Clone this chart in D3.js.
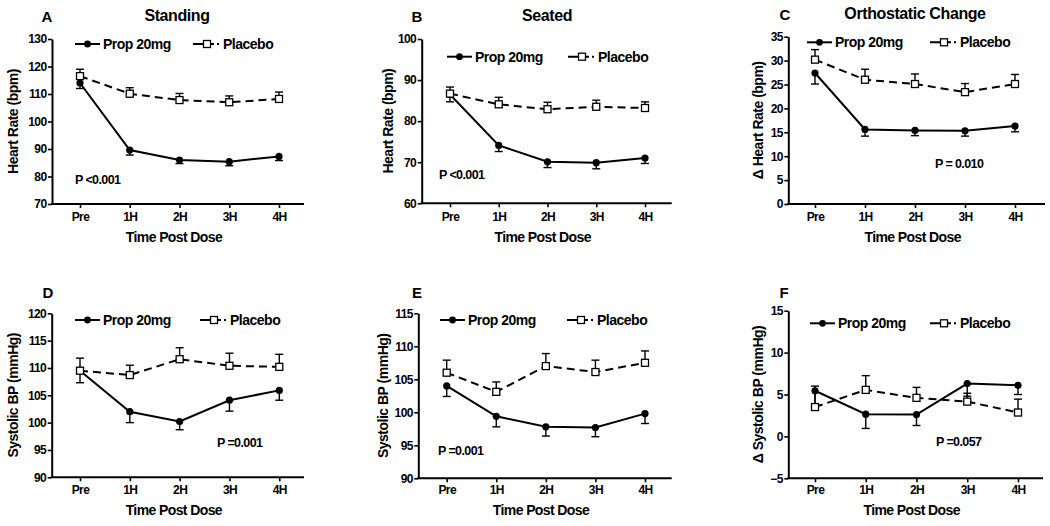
<!DOCTYPE html>
<html>
<head>
<meta charset="utf-8">
<script src="https://cdn.jsdelivr.net/npm/d3@7"></script>
<style>
  html, body { margin: 0; padding: 0; background: #fff; }
  svg { display: block; }
  text { font-family: "Liberation Sans", Arial, sans-serif; font-weight: bold; fill: #000; }
</style>
</head>
<body>
<svg id="chart" width="1050" height="526"></svg>
<script>
// ---------- data ----------
const categories = ["Pre", "1H", "2H", "3H", "4H"];
const seriesNames = ["Prop 20mg", "Placebo"];

// A: Standing heart rate
const standingHRProp = [114.0, 89.6, 86.0, 85.4, 87.3];
const standingHRPropErr = [2.0, 1.8, 1.3, 1.5, 1.5];
const standingHRPlacebo = [116.5, 110.1, 107.8, 107.0, 108.2];
const standingHRPlaceboErr = [2.5, 2.2, 2.4, 2.3, 2.5];
const ticksA = [70, 80, 90, 100, 110, 120, 130];

// B: Seated heart rate
const seatedHRProp = [86.5, 74.1, 70.1, 69.9, 71.0];
const seatedHRPropErr = [1.8, 1.5, 1.4, 1.5, 1.3];
const seatedHRPlacebo = [86.7, 84.1, 82.9, 83.5, 83.2];
const seatedHRPlaceboErr = [1.6, 1.7, 1.7, 1.6, 1.5];
const ticksB = [60, 70, 80, 90, 100];

// C: Orthostatic change heart rate
const orthoHRProp = [27.4, 15.6, 15.4, 15.3, 16.3];
const orthoHRPropErr = [2.3, 1.4, 1.1, 1.1, 1.2];
const orthoHRPlacebo = [30.2, 26.0, 25.1, 23.4, 25.1];
const orthoHRPlaceboErr = [2.1, 2.2, 2.1, 1.8, 2.0];
const ticksC = [0, 5, 10, 15, 20, 25, 30, 35];

// D: Standing systolic BP
const standingSBPProp = [109.5, 102.0, 100.2, 104.1, 105.9];
const standingSBPPropErr = [2.2, 2.0, 1.5, 2.0, 1.8];
const standingSBPPlacebo = [109.5, 108.7, 111.6, 110.4, 110.2];
const standingSBPPlaceboErr = [2.3, 1.8, 2.1, 2.3, 2.3];
const ticksD = [90, 95, 100, 105, 110, 115, 120];

// E: Seated systolic BP
const seatedSBPProp = [104.0, 99.4, 97.8, 97.7, 99.8];
const seatedSBPPropErr = [1.6, 1.6, 1.4, 1.4, 1.5];
const seatedSBPPlacebo = [106.0, 103.1, 107.0, 106.1, 107.5];
const seatedSBPPlaceboErr = [1.9, 1.5, 1.9, 1.8, 1.8];
const ticksE = [90, 95, 100, 105, 110, 115];

// F: Orthostatic change systolic BP
const orthoSBPProp = [5.45, 2.65, 2.6, 6.3, 6.1];
const orthoSBPPropErr = [1.9, 1.7, 1.3, 1.5, 1.1];
const orthoSBPPlacebo = [3.5, 5.55, 4.6, 4.15, 2.85];
const orthoSBPPlaceboErr = [2.5, 1.7, 1.25, 1.0, 1.6];
const ticksF = [-5, 0, 5, 10, 15];

const letters = ["A", "B", "C", "D", "E", "F"];
const titles = ["Standing", "Seated", "Orthostatic Change", "", "", ""];
const yLabels = ["Heart Rate (bpm)", "Heart Rate (bpm)", "\u0394 Heart Rate (bpm)",
                 "Systolic BP (mmHg)", "Systolic BP (mmHg)", "\u0394 Systolic BP (mmHg)"];
const pLabels = ["P <0.001", "P <0.001", "P = 0.010", "P =0.001", "P =0.001", "P =0.057"];
const xTitle = "Time Post Dose";

// ---------- layout (positions only) ----------
const layout = [
  {left:52, right:304, top:39, bottom:204, x0:80, x1:279, titleX:177, letterX:47, headY:16, ylabX:13,
   legY:44, leg1:75, leg2:193, pX:75, pY:180, tickY:217, xtY:237},
  {left:421.7, right:671.7, top:39, bottom:203.3, x0:450, x1:645, titleX:547, letterX:417, headY:16, ylabX:388,
   legY:56.7, leg1:447, leg2:568, pX:439, pY:175, tickY:217, xtY:237},
  {left:788.3, right:1045, top:36.7, bottom:204, x0:815, x1:1015, titleX:915, letterX:785, headY:14, ylabX:758,
   legY:42.3, leg1:807, leg2:930, pX:935, pY:164, tickY:217, xtY:237},
  {left:51.7, right:304, top:313.3, bottom:477.3, x0:80, x1:279.3, titleX:0, letterX:48, headY:292, ylabX:13,
   legY:320, leg1:75, leg2:200, pX:217, pY:443, tickY:490, xtY:510},
  {left:418.3, right:671.7, top:313.3, bottom:478.3, x0:446.7, x1:645, titleX:0, letterX:417, headY:292, ylabX:383,
   legY:320, leg1:440, leg2:567, pX:438, pY:451, tickY:490, xtY:510},
  {left:788.3, right:1043, top:310.7, bottom:478.3, x0:815, x1:1018, titleX:0, letterX:784, headY:292, ylabX:758,
   legY:323.3, leg1:810, leg2:930, pX:936, pY:442, tickY:490, xtY:510}
];

const panelData = [
  {prop: standingHRProp, propErr: standingHRPropErr, plac: standingHRPlacebo, placErr: standingHRPlaceboErr, ticks: ticksA},
  {prop: seatedHRProp, propErr: seatedHRPropErr, plac: seatedHRPlacebo, placErr: seatedHRPlaceboErr, ticks: ticksB},
  {prop: orthoHRProp, propErr: orthoHRPropErr, plac: orthoHRPlacebo, placErr: orthoHRPlaceboErr, ticks: ticksC},
  {prop: standingSBPProp, propErr: standingSBPPropErr, plac: standingSBPPlacebo, placErr: standingSBPPlaceboErr, ticks: ticksD},
  {prop: seatedSBPProp, propErr: seatedSBPPropErr, plac: seatedSBPPlacebo, placErr: seatedSBPPlaceboErr, ticks: ticksE},
  {prop: orthoSBPProp, propErr: orthoSBPPropErr, plac: orthoSBPPlacebo, placErr: orthoSBPPlaceboErr, ticks: ticksF}
];

const svg = d3.select("#chart");
const DASH = "8,5";

panelData.forEach((pd, i) => {
  const L = layout[i];
  const g = svg.append("g");
  const x = d3.scalePoint().domain(categories).range([L.x0, L.x1]);
  const y = d3.scaleLinear().domain([pd.ticks[0], pd.ticks[pd.ticks.length - 1]]).range([L.bottom, L.top]);

  // y axis
  const yAxis = g.append("g").attr("transform", `translate(${L.left},0)`)
    .call(d3.axisLeft(y).tickValues(pd.ticks).tickSize(4).tickSizeOuter(0).tickPadding(1.5).tickFormat(d3.format("d")));
  yAxis.select(".domain").attr("stroke", "#000").attr("stroke-width", 2);
  yAxis.selectAll(".tick line").attr("stroke", "#000").attr("stroke-width", 1.6);
  yAxis.selectAll(".tick text").style("font-size", "12px").style("letter-spacing", "-0.6px")
    .style("font-family", '"Liberation Sans", Arial, sans-serif').style("font-weight", "bold");

  // x axis
  const xAxis = g.append("g").attr("transform", `translate(0,${L.bottom})`)
    .call(d3.axisBottom(x).tickSize(4).tickSizeOuter(0).tickPadding(4));
  xAxis.select(".domain").remove();
  xAxis.selectAll(".tick line").attr("stroke", "#000").attr("stroke-width", 1.6);
  xAxis.selectAll(".tick text").attr("y", null).attr("dy", null)
    .attr("transform", `translate(0,${L.tickY - L.bottom})`).attr("dominant-baseline", "central")
    .style("font-size", "12px").style("letter-spacing", "-0.6px")
    .style("font-family", '"Liberation Sans", Arial, sans-serif').style("font-weight", "bold");
  g.append("line").attr("x1", L.left - 1).attr("x2", L.right).attr("y1", L.bottom).attr("y2", L.bottom)
    .attr("stroke", "#000").attr("stroke-width", 2);

  // axis titles
  g.append("text").attr("x", (L.left + L.right) / 2 - 4).attr("y", L.xtY).attr("text-anchor", "middle")
    .attr("dominant-baseline", "central").style("font-size", "14px").style("letter-spacing", "-0.6px").text(xTitle);
  g.append("text").attr("transform", `translate(${L.ylabX},${(L.top + L.bottom) / 2}) rotate(-90)`)
    .attr("text-anchor", "middle").attr("dominant-baseline", "central")
    .style("font-size", "14px").style("letter-spacing", "-0.5px").text(yLabels[i]);

  // letter + title
  g.append("text").attr("x", L.letterX).attr("y", L.headY).attr("text-anchor", "middle")
    .attr("dominant-baseline", "central").style("font-size", "15px").text(letters[i]);
  if (titles[i]) {
    g.append("text").attr("x", L.titleX).attr("y", L.headY - 1).attr("text-anchor", "middle")
      .attr("dominant-baseline", "central").style("font-size", "16px").style("letter-spacing", "-0.4px").text(titles[i]);
  }

  // p value
  g.append("text").attr("x", L.pX).attr("y", L.pY).attr("dominant-baseline", "central")
    .style("font-size", "12.5px").style("letter-spacing", "-0.6px").text(pLabels[i]);

  // lines
  const lineGen = d3.line().x((d, j) => x(categories[j])).y(d => y(d));
  g.append("path").datum(pd.prop).attr("d", lineGen).attr("fill", "none").attr("stroke", "#000").attr("stroke-width", 2);
  g.append("path").datum(pd.plac).attr("d", lineGen).attr("fill", "none").attr("stroke", "#000")
    .attr("stroke-width", 2).attr("stroke-dasharray", DASH);

  // error bars (prop downwards, placebo upwards)
  const errs = [];
  pd.prop.forEach((v, j) => errs.push({c: categories[j], v0: v, v1: v - pd.propErr[j]}));
  pd.plac.forEach((v, j) => errs.push({c: categories[j], v0: v, v1: v + pd.placErr[j]}));
  const eb = g.append("g").selectAll("g").data(errs).join("g");
  eb.append("line").attr("x1", d => x(d.c)).attr("x2", d => x(d.c)).attr("y1", d => y(d.v0)).attr("y2", d => y(d.v1))
    .attr("stroke", "#000").attr("stroke-width", 1.4);
  eb.append("line").attr("x1", d => x(d.c) - 4).attr("x2", d => x(d.c) + 4).attr("y1", d => y(d.v1)).attr("y2", d => y(d.v1))
    .attr("stroke", "#000").attr("stroke-width", 1.4);

  // markers
  g.append("g").selectAll("circle").data(pd.prop).join("circle")
    .attr("cx", (d, j) => x(categories[j])).attr("cy", d => y(d)).attr("r", 3.6).attr("fill", "#000");
  g.append("g").selectAll("rect").data(pd.plac).join("rect")
    .attr("x", (d, j) => x(categories[j]) - 3.5).attr("y", d => y(d) - 3.5).attr("width", 7).attr("height", 7)
    .attr("fill", "#fff").attr("stroke", "#000").attr("stroke-width", 1.3);

  // legend
  const lg = g.append("g");
  lg.append("line").attr("x1", L.leg1).attr("x2", L.leg1 + 25).attr("y1", L.legY).attr("y2", L.legY)
    .attr("stroke", "#000").attr("stroke-width", 2);
  lg.append("circle").attr("cx", L.leg1 + 12.5).attr("cy", L.legY).attr("r", 3.4).attr("fill", "#000");
  lg.append("text").attr("x", L.leg1 + 28).attr("y", L.legY).attr("dominant-baseline", "central")
    .style("font-size", "14px").style("letter-spacing", "-0.5px").text(seriesNames[0]);
  lg.append("line").attr("x1", L.leg2).attr("x2", L.leg2 + 27).attr("y1", L.legY).attr("y2", L.legY)
    .attr("stroke", "#000").attr("stroke-width", 2).attr("stroke-dasharray", "11,6,4,3,2,10");
  lg.append("rect").attr("x", L.leg2 + 10.5).attr("y", L.legY - 3.5).attr("width", 7).attr("height", 7)
    .attr("fill", "#fff").attr("stroke", "#000").attr("stroke-width", 1.3);
  lg.append("text").attr("x", L.leg2 + 30).attr("y", L.legY).attr("dominant-baseline", "central")
    .style("font-size", "14px").style("letter-spacing", "-0.5px").text(seriesNames[1]);
});
</script>
</body>
</html>
